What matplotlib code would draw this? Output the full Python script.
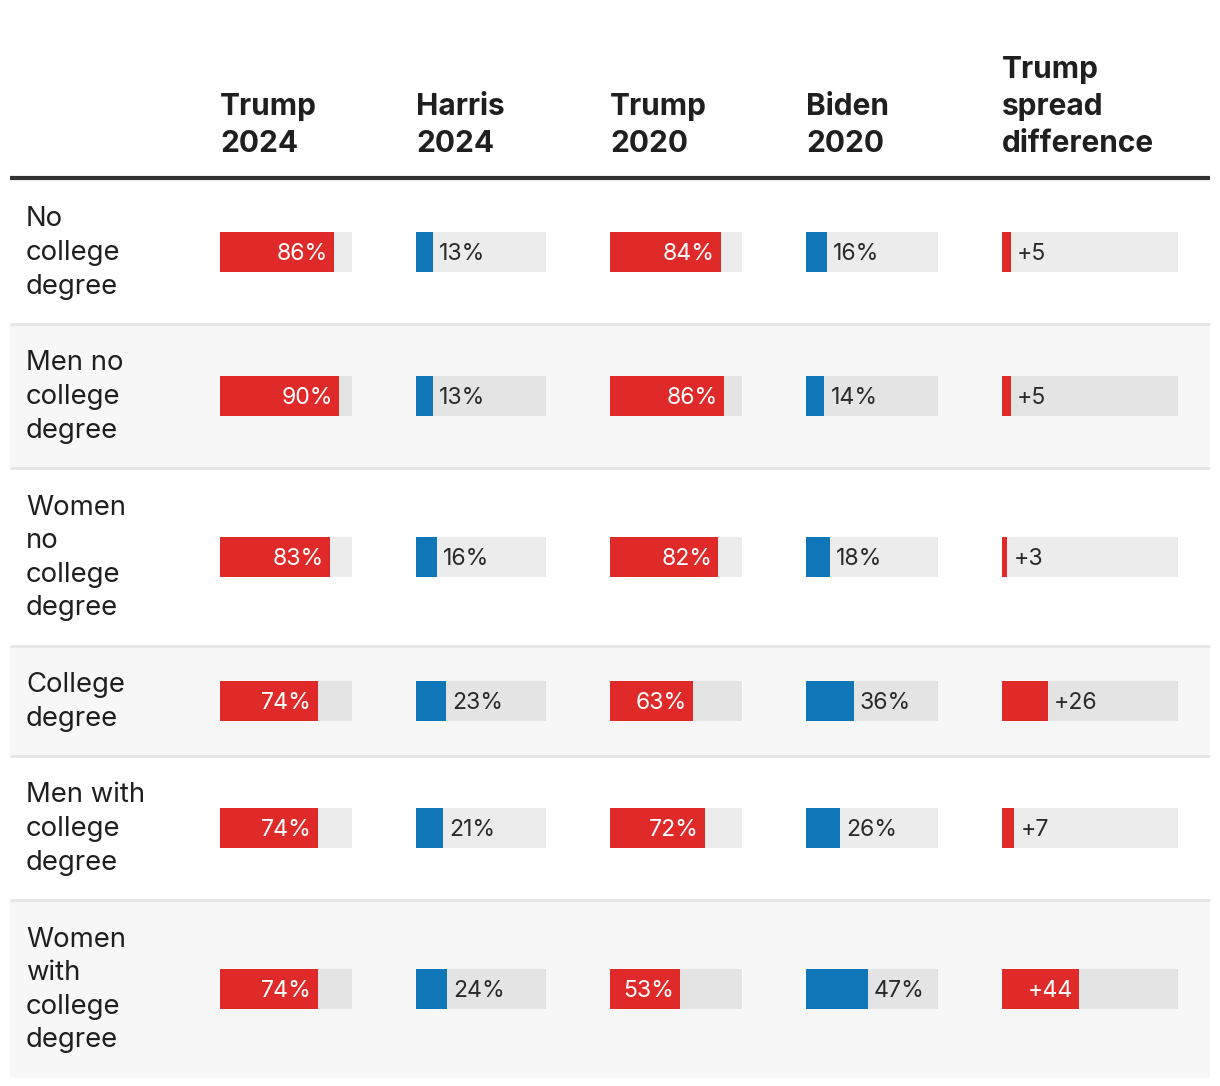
import matplotlib
matplotlib.use("Agg")
import matplotlib.pyplot as plt
from matplotlib.patches import Rectangle

plt.rcParams["font.family"] = ["Inter", "DejaVu Sans"]

# data
row_labels = ["No\ncollege\ndegree", "Men no\ncollege\ndegree", "Women\nno\ncollege\ndegree",
              "College\ndegree", "Men with\ncollege\ndegree", "Women\nwith\ncollege\ndegree"]
headers = ["Trump\n2024", "Harris\n2024", "Trump\n2020", "Biden\n2020", "Trump\nspread\ndifference"]
trump_2024 = [86, 90, 83, 74, 74, 74]
harris_2024 = [13, 13, 16, 23, 21, 24]
trump_2020 = [84, 86, 82, 63, 72, 53]
biden_2020 = [16, 14, 18, 36, 26, 47]
spread_diff = [5, 5, 3, 26, 7, 44]

RED = "#e02929"
BLUE = "#0f77b8"
INK = "#1f1f1f"

W, H = 1220, 1086
fig = plt.figure(figsize=(W / 100, H / 100), dpi=100)
bg = fig.add_axes([0, 0, 1, 1])
bg.set_xlim(0, W)
bg.set_ylim(H, 0)
bg.axis("off")

# row layout from number of label lines
top = 180
line_h = 34
tops, centers = [], []
y = top
for lab in row_labels:
    h = line_h * (lab.count("\n") + 1) + 42
    tops.append(y)
    centers.append(y + h / 2)
    y += h
bottom = y

for i, (t, c) in enumerate(zip(tops, centers)):
    h = 2 * (c - t)
    if i % 2 == 1:
        bg.add_patch(Rectangle((10, t), 1200, h, color="#f7f7f7", lw=0))
    if i > 0:
        bg.plot([10, 1210], [t, t], color="#e6e6e6", lw=2, solid_capstyle="butt")
    bg.text(26, c + 1, row_labels[i], fontsize=19.8, fontweight="normal", color=INK,
            va="center", ha="left", linespacing=1.38)

bg.plot([10, 1210], [178, 178], color="#333333", lw=3, solid_capstyle="butt")

# columns: (left px, width px, values, color, fmt)
columns = [
    (220, 132, trump_2024, RED, "{}%"),
    (416, 130, harris_2024, BLUE, "{}%"),
    (610, 132, trump_2020, RED, "{}%"),
    (806, 132, biden_2020, BLUE, "{}%"),
    (1002, 176, spread_diff, RED, "+{}"),
]

for (x0, w, vals, col, fmt), head in zip(columns, headers):
    bg.text(x0, 158, head, fontsize=21.5, fontweight="bold", color=INK,
            ha="left", va="bottom", linespacing=1.4)
    ax = fig.add_axes([x0 / W, (H - bottom) / H, w / W, (bottom - top) / H])
    ax.set_xlim(0, 100)
    ax.set_ylim(bottom, top)
    ax.axis("off")
    ax.barh(centers, [100] * len(vals), height=40, color="black", alpha=0.075, lw=0)
    ax.barh(centers, vals, height=40, color=col, lw=0)
    for v, c in zip(vals, centers):
        px = v / 100 * w
        if col == RED and px >= 60:
            ax.annotate(fmt.format(v), (v, c), xytext=(-6, -2), textcoords="offset pixels",
                        ha="right", va="center", color="white", fontsize=16.6, fontweight="normal")
        else:
            ax.annotate(fmt.format(v), (v, c), xytext=(6, -2), textcoords="offset pixels",
                        ha="left", va="center", color="#2a2a2a", fontsize=16.6, fontweight="normal")

fig.savefig("out.png", dpi=100)
